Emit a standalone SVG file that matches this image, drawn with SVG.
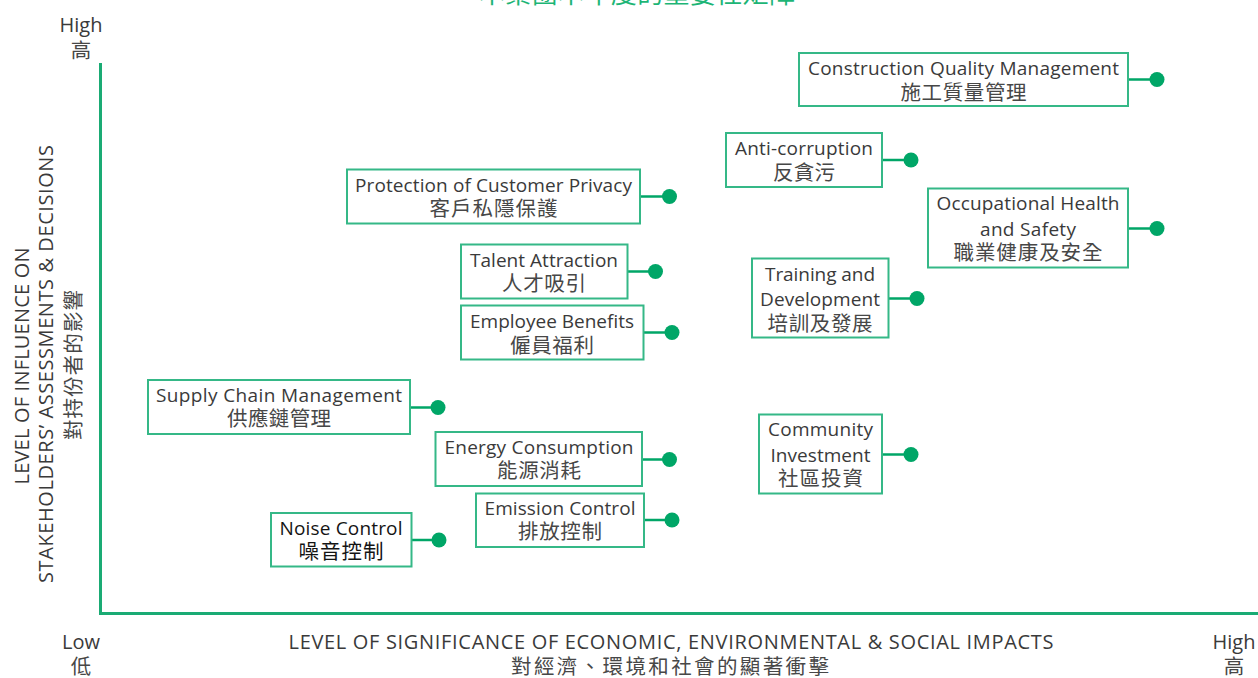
<svg xmlns="http://www.w3.org/2000/svg" width="1258" height="678" viewBox="0 0 1258 678">
<style>
.box{fill:#fff;stroke:#35b887;stroke-width:2}
.en{font-family:"Open Sans","Noto Sans",sans-serif;font-size:19px;fill:#3a3a3a;text-anchor:middle}
.zh{font-family:"Noto Sans CJK TC","Noto Sans CJK SC",sans-serif;font-size:20.5px;fill:#474747;text-anchor:middle}
.ax{font-family:"Open Sans","Noto Sans",sans-serif;font-size:20px;fill:#3a3a3a;text-anchor:middle}
.axz{font-family:"Noto Sans CJK TC","Noto Sans CJK SC",sans-serif;font-size:20.5px;fill:#474747;text-anchor:middle}
.dot{fill:#00a667}
.conn{stroke:#00a667;stroke-width:2.5;fill:none}
.axis{stroke:#1aab74;stroke-width:3;fill:none}
</style>
<rect width="1258" height="678" fill="#fff"/>
<text x="637" y="2.5" textLength="316" style="font-family:'Noto Sans CJK TC','Noto Sans CJK SC',sans-serif;font-size:26px;fill:#1db576;text-anchor:middle">本集團本年度的重要性矩陣</text>

<g id="axes">
<polyline class="axis" points="100.5,63 100.5,613.5 1258,613.5"/>
<text class="ax" x="81" y="31.5">High</text>
<text class="axz" x="81" y="57.5">高</text>
<text class="ax" x="81" y="649">Low</text>
<text class="axz" x="81" y="674">低</text>
<text class="ax" x="1234" y="649">High</text>
<text class="axz" x="1234" y="674">高</text>
<text class="ax" x="671" y="649" textLength="765">LEVEL OF SIGNIFICANCE OF ECONOMIC, ENVIRONMENTAL &amp; SOCIAL IMPACTS</text>
<text class="axz" x="670" y="674" textLength="318">對經濟、環境和社會的顯著衝擊</text>
<g transform="translate(29,366) rotate(-90)"><text class="ax" x="0" y="0" textLength="237">LEVEL OF INFLUENCE ON</text></g>
<g transform="translate(53,364) rotate(-90)"><text class="ax" x="0" y="0" textLength="438">STAKEHOLDERS’ ASSESSMENTS &amp; DECISIONS</text></g>
<g transform="translate(81,365) rotate(-90)"><text class="axz" x="0" y="0" textLength="150">對持份者的影響</text></g>
</g>

<g id="connectors">
<line class="conn" x1="1128" y1="79.5" x2="1157" y2="79.5"/>
<line class="conn" x1="882" y1="160" x2="911" y2="160"/>
<line class="conn" x1="1128" y1="228.5" x2="1157" y2="228.5"/>
<line class="conn" x1="888.5" y1="298.5" x2="917" y2="298.5"/>
<line class="conn" x1="882" y1="454.5" x2="911" y2="454.5"/>
<line class="conn" x1="640" y1="196.5" x2="669.5" y2="196.5"/>
<line class="conn" x1="627.5" y1="271.5" x2="655.5" y2="271.5"/>
<line class="conn" x1="643.5" y1="332.5" x2="672" y2="332.5"/>
<line class="conn" x1="410" y1="407.5" x2="438" y2="407.5"/>
<line class="conn" x1="642" y1="459.5" x2="669.5" y2="459.5"/>
<line class="conn" x1="644" y1="520" x2="672" y2="520"/>
<line class="conn" x1="411.5" y1="540" x2="439" y2="540"/>
</g>

<g id="construction-quality">
<rect class="box" x="799" y="53" width="329" height="53"/>
<text class="en" x="963.5" y="74.5" textLength="311">Construction Quality Management</text>
<text class="zh" x="963.5" y="99.5" textLength="126">施工質量管理</text>
<circle class="dot" cx="1157" cy="79.5" r="7.5"/>
</g>

<g id="anti-corruption">
<rect class="box" x="726" y="133" width="156" height="54"/>
<text class="en" x="804" y="154.5" textLength="138">Anti-corruption</text>
<text class="zh" x="804" y="179.5" textLength="62">反貪污</text>
<circle class="dot" cx="911" cy="160" r="7.5"/>
</g>

<g id="occupational-health">
<rect class="box" x="928" y="188.5" width="200" height="79"/>
<text class="en" x="1028" y="210" textLength="183">Occupational Health</text>
<text class="en" x="1028" y="235.5" textLength="96">and Safety</text>
<text class="zh" x="1028" y="260" textLength="149">職業健康及安全</text>
<circle class="dot" cx="1157" cy="228.5" r="7.5"/>
</g>

<g id="training">
<rect class="box" x="752" y="258.5" width="136.5" height="79"/>
<text class="en" x="820" y="281" textLength="110">Training and</text>
<text class="en" x="820" y="306" textLength="120">Development</text>
<text class="zh" x="820" y="330.5" textLength="105">培訓及發展</text>
<circle class="dot" cx="917" cy="298.5" r="7.5"/>
</g>

<g id="community">
<rect class="box" x="759" y="414.5" width="123" height="79"/>
<text class="en" x="820.5" y="436" textLength="105">Community</text>
<text class="en" x="820.5" y="461.5" textLength="100">Investment</text>
<text class="zh" x="820.5" y="486" textLength="85">社區投資</text>
<circle class="dot" cx="911" cy="454.5" r="7.5"/>
</g>

<g id="customer-privacy">
<rect class="box" x="347" y="169.5" width="293" height="54"/>
<text class="en" x="493.5" y="191.5" textLength="277">Protection of Customer Privacy</text>
<text class="zh" x="493.5" y="216" textLength="128">客戶私隱保護</text>
<circle class="dot" cx="669.5" cy="196.5" r="7.5"/>
</g>

<g id="talent-attraction">
<rect class="box" x="461" y="244.5" width="166.5" height="54"/>
<text class="en" x="544" y="266.5" textLength="148">Talent Attraction</text>
<text class="zh" x="544" y="291" textLength="84">人才吸引</text>
<circle class="dot" cx="655.5" cy="271.5" r="7.5"/>
</g>

<g id="employee-benefits">
<rect class="box" x="461" y="305.5" width="182.5" height="54"/>
<text class="en" x="552" y="328" textLength="164">Employee Benefits</text>
<text class="zh" x="552" y="352.5" textLength="84">僱員福利</text>
<circle class="dot" cx="672" cy="332.5" r="7.5"/>
</g>

<g id="supply-chain">
<rect class="box" x="148" y="380" width="262" height="54"/>
<text class="en" x="279" y="401.5" textLength="246">Supply Chain Management</text>
<text class="zh" x="279" y="426" textLength="104">供應鏈管理</text>
<circle class="dot" cx="438" cy="407.5" r="7.5"/>
</g>

<g id="energy-consumption">
<rect class="box" x="435.5" y="432" width="206.5" height="54"/>
<text class="en" x="539" y="453.5" textLength="189">Energy Consumption</text>
<text class="zh" x="539" y="477.5" textLength="84">能源消耗</text>
<circle class="dot" cx="669.5" cy="459.5" r="7.5"/>
</g>

<g id="emission-control">
<rect class="box" x="476" y="493.5" width="168" height="53.5"/>
<text class="en" x="560" y="515" textLength="151">Emission Control</text>
<text class="zh" x="560" y="539" textLength="84">排放控制</text>
<circle class="dot" cx="672" cy="520" r="7.5"/>
</g>

<g id="noise-control">
<rect class="box" x="271" y="513" width="140.5" height="53.5"/>
<text class="en" x="341" y="535" textLength="123" style="fill:#141414">Noise Control</text>
<text class="zh" x="341" y="559" textLength="85" style="fill:#141414">噪音控制</text>
<circle class="dot" cx="439" cy="540" r="7.5"/>
</g>
</svg>
